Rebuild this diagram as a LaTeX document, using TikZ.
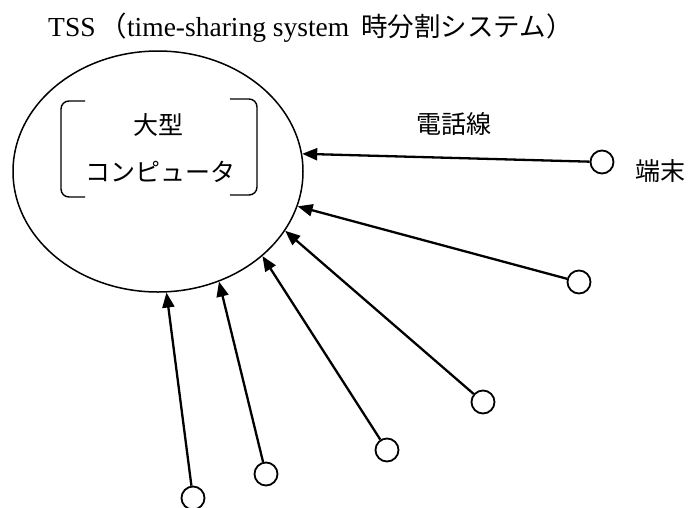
\documentclass[tikz,border=0pt]{standalone}
\usepackage{fontspec}
\setmainfont{Liberation Serif}
\newfontfamily\cjk{Noto Sans CJK JP}
\usetikzlibrary{arrows.meta,shapes.geometric}
\begin{document}
\begin{tikzpicture}[x=1pt,y=-1pt,
  termnode/.style={circle,draw,line width=1.8pt,minimum size=23pt,inner sep=0pt},
  conn/.style={line width=2.3pt,-{Triangle[length=15pt,width=12pt]}},
  jp/.style={font=\cjk\fontsize{25}{30}\selectfont, inner sep=0pt},
  brk/.style={line width=1.4pt, rounded corners=8pt}]
\useasboundingbox (0,0) rectangle (694,507);
\node[anchor=base west, inner sep=0pt, font=\fontsize{27.5}{30}\selectfont] (title) at (48,36)
  {TSS\hspace{4pt}{\cjk （}time-sharing system\hspace{12pt}{\cjk\fontsize{26.5}{30}\selectfont 時分割システム）}};
\node[ellipse,draw,line width=1.5pt,minimum width=290pt,minimum height=241pt,inner sep=0pt] (comp) at (158,171.5) {};
\node[jp] (big) at (158,125) {大型};
\node[jp] (computer) at (160,172) {コンピュータ};
\draw[brk] (85,101) -- (61,101) -- (61,197) -- (85,197);
\draw[brk] (230,99) -- (257,99) -- (257,195) -- (230,195);
\node[jp] (phone) at (454,124) {電話線};
\node[jp] (tlabel) at (660,171) {端末};
\node[termnode] (t1) at (602,162) {};
\node[termnode] (t2) at (579,282) {};
\node[termnode] (t3) at (483,402) {};
\node[termnode] (t4) at (387,450) {};
\node[termnode] (t5) at (266,474) {};
\node[termnode] (t6) at (193,498) {};
\draw[conn] (t1) -- (comp.7);
\draw[conn] (t2) -- (comp.-14);
\draw[conn] (t3) -- (comp.-25);
\draw[conn] (t4) -- (comp.-39);
\draw[conn] (t5) -- (comp.-61);
\draw[conn] (t6) -- (comp.-86);
\end{tikzpicture}
\end{document}
